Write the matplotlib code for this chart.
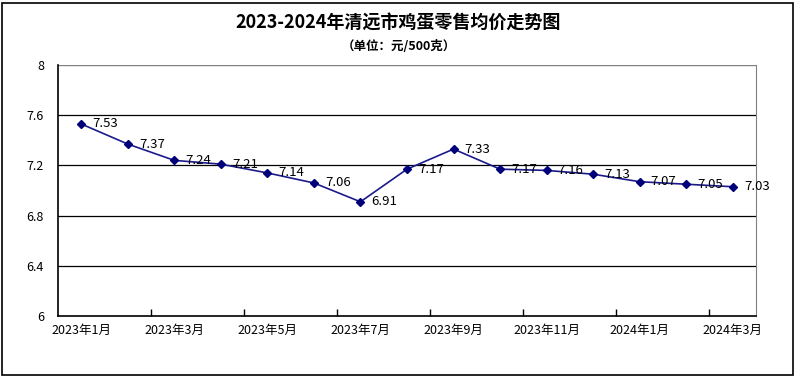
import matplotlib
matplotlib.use('Agg')
import matplotlib.pyplot as plt
from matplotlib.patches import Rectangle
import numpy as np

plt.rcParams['font.family'] = ['Noto Sans CJK SC', 'DejaVu Sans']

months = ['2023年1月', '2023年2月', '2023年3月', '2023年4月', '2023年5月',
          '2023年6月', '2023年7月', '2023年8月', '2023年9月', '2023年10月',
          '2023年11月', '2023年12月', '2024年1月', '2024年2月', '2024年3月']
prices = [7.53, 7.37, 7.24, 7.21, 7.14, 7.06, 6.91, 7.17, 7.33, 7.17,
          7.16, 7.13, 7.07, 7.05, 7.03]
yticks = [6, 6.4, 6.8, 7.2, 7.6, 8]

fig = plt.figure(figsize=(7.97, 3.77), dpi=100)
ax = fig.add_axes([58 / 797, 1 - 316 / 377, 698 / 797, 251 / 377])

x = np.arange(len(months))
ax.plot(x, prices, color='#1a1a8c', lw=1.2, marker='D', markersize=4.5,
        markerfacecolor='#00007a', markeredgecolor='#00007a', zorder=3)
for xi, v in zip(x, prices):
    ax.annotate(f'{v:.2f}', (xi, v), xytext=(8, 0), textcoords='offset points',
                ha='left', va='center', fontsize=9.5, color='black')

ax.set_xlim(-0.5, len(months) - 0.5)
ax.set_ylim(6, 8)
ax.set_yticks(yticks)
ax.set_yticklabels(['6', '6.4', '6.8', '7.2', '7.6', '8'], fontsize=9)
ax.tick_params(axis='y', length=0, pad=10)
for t in yticks[1:-1]:
    ax.axhline(t, color='black', lw=0.9, zorder=1)
ax.axhline(8, color='#808080', lw=1.0, zorder=1)

ax.set_xticks(x[::2])
ax.set_xticklabels(months[::2], fontsize=9)
ax.set_xticks(np.arange(1.5, len(months) - 1, 2), minor=True)
ax.tick_params(axis='x', which='major', length=0, pad=6)
ax.tick_params(axis='x', which='minor', length=5, direction='in', width=1)

ax.spines['top'].set_visible(False)
ax.spines['right'].set_color('#808080')
ax.spines['left'].set_linewidth(1.2)
ax.spines['bottom'].set_linewidth(1.2)

fig.text(0.5, 1 - 22 / 377, '2023-2024年清远市鸡蛋零售均价走势图', ha='center', va='center',
         fontsize=13, fontweight='bold')
fig.text(0.5, 1 - 47 / 377, '（单位：元/500克）', ha='center', va='center',
         fontsize=9, fontweight='bold')

fig.patches.append(Rectangle((2 / 797, 2 / 377), 791 / 797, 372 / 377, transform=fig.transFigure,
                             fill=False, edgecolor='black', lw=1.2))

fig.savefig('out.png', dpi=100)
